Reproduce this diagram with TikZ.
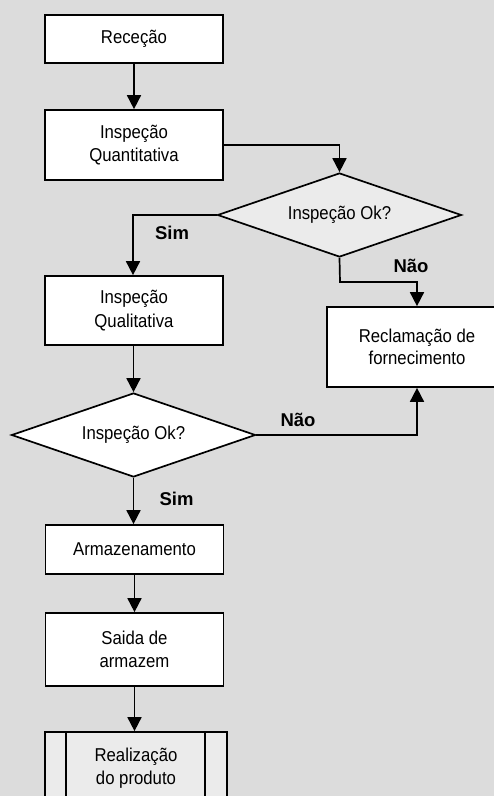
\documentclass[tikz,border=0pt]{standalone}
\usepackage{fontspec}
\setmainfont[FakeStretch=0.9]{Liberation Sans}
\newfontfamily\labfont{Liberation Sans}
\usetikzlibrary{shapes.geometric,arrows.meta}
\definecolor{bg}{HTML}{DCDCDC}
\definecolor{lightfill}{HTML}{EBEBEB}
\tikzset{
  x=1pt,y=-1pt,
  every node/.style={font=\fontsize{18.6}{23.5}\selectfont},
  procbox/.style={draw=black,line width=1.7pt,fill=white,rectangle,inner sep=0pt,align=center,minimum width=178pt},
  decision/.style={draw=black,line width=1.7pt,diamond,aspect=2.9,inner sep=0pt,minimum width=244pt,minimum height=84pt},
  conn/.style={line width=1.7pt,-{Triangle[width=14pt,length=14pt]}},
  lab/.style={font=\labfont\bfseries\fontsize{18.5}{22}\selectfont,inner sep=0pt}
}
\begin{document}
\begin{tikzpicture}
\fill[bg] (0,0) rectangle (494,796);
\useasboundingbox (0,0) rectangle (494,796);
\clip (0,0) rectangle (494,796);
\node[procbox,minimum height=48pt] (rec) at (134,39) {Receção};
\node[procbox,minimum height=70pt] (iqt) at (134,145) {Inspeção\\Quantitativa};
\node[decision,fill=lightfill] (d1) at (339.5,215) {Inspeção Ok?};
\node[procbox,minimum height=69pt] (iql) at (134,310.5) {Inspeção\\Qualitativa};
\node[procbox,minimum width=180pt,minimum height=80pt,font=\fontsize{18.6}{22}\selectfont] (recl) at (417,347) {Reclamação de\\fornecimento};
\node[decision,fill=white] (d2) at (133.5,435) {Inspeção Ok?};
\node[procbox,minimum height=49pt] (arm) at (134.5,549.5) {Armazenamento};
\node[procbox,minimum height=73pt] (sai) at (134.5,649.5) {Saida de\\armazem};
\node[procbox,fill=lightfill,minimum width=182pt,minimum height=72pt] (real) at (136,768) {Realização\\do produto};
\draw[line width=1.7pt] ([xshift=22pt]real.north west) -- ([xshift=22pt]real.south west);
\draw[line width=1.7pt] ([xshift=-23pt]real.north east) -- ([xshift=-23pt]real.south east);
\coordinate (c1) at (340,282);
\draw[conn] (rec.south) -- (rec.south |- iqt.north);
\draw[conn] (iqt.east) -| (d1.north);
\draw[conn] (d1.west) -| ([xshift=-1pt]iql.north);
\draw[conn] (d1.south) -- (c1) -| (recl.north);
\draw[conn] ([xshift=-0.5pt]iql.south) -- (d2.north);
\draw[conn] (d2.east) -| (recl.south);
\draw[conn] (d2.south) -- (d2.south |- arm.north);
\draw[conn] (arm.south) -- (sai.north);
\draw[conn] (sai.south) -- (sai.south |- real.north);
\node[lab] (sim1) at (172,233) {Sim};
\node[lab] (nao1) at (411,266) {Não};
\node[lab] (nao2) at (298,420) {Não};
\node[lab] (sim2) at (176.5,499) {Sim};
\end{tikzpicture}
\end{document}
